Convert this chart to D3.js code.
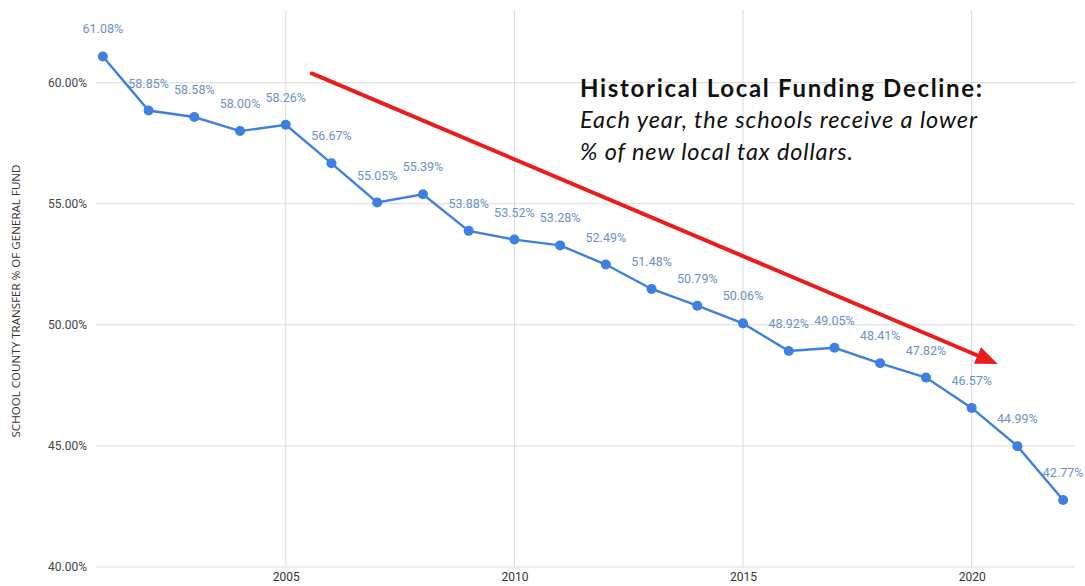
<!DOCTYPE html>
<html>
<head>
<meta charset="utf-8">
<script src="https://cdn.jsdelivr.net/npm/d3@7"></script>
<style>
  html, body { margin: 0; padding: 0; background: #fff; }
  svg { display: block; }
</style>
</head>
<body>
<svg id="chart" width="1085" height="586"></svg>
<script>
// School county transfer as a share of the general fund, by fiscal year
const years = [2001, 2002, 2003, 2004, 2005, 2006, 2007, 2008, 2009, 2010, 2011,
               2012, 2013, 2014, 2015, 2016, 2017, 2018, 2019, 2020, 2021, 2022];
const shares = [61.08, 58.85, 58.58, 58.00, 58.26, 56.67, 55.05, 55.39, 53.88, 53.52, 53.28,
                52.49, 51.48, 50.79, 50.06, 48.92, 49.05, 48.41, 47.82, 46.57, 44.99, 42.77];
const yTicks = [40, 45, 50, 55, 60];
const xTicks = [2005, 2010, 2015, 2020];
const yTitle = "SCHOOL COUNTY TRANSFER % OF GENERAL FUND";
const noteTitle = "Historical Local Funding Decline:";
const noteLines = ["Each year, the schools receive a lower", "% of new local tax dollars."];
// Trend arrow endpoints in data units (year, percent)
const trendFrom = [2005.57, 60.38];
const trendTo = [2020.57, 48.38];

(function () {
  const svg = d3.select("#chart");
  const plotL = 96, plotR = 1075, plotT = 10, plotB = 567;

  const x = d3.scaleLinear().domain([2000.85, 2022.26]).range([plotL, plotR]);
  const y = d3.scaleLinear().domain([40, 63]).range([plotB, plotT]);

  // Grid
  svg.append("g").selectAll("line").data(yTicks).join("line")
    .attr("x1", plotL).attr("x2", plotR)
    .attr("y1", d => y(d)).attr("y2", d => y(d))
    .attr("stroke", "#dadada").attr("stroke-width", 1);
  svg.append("g").selectAll("line").data(xTicks).join("line")
    .attr("x1", d => x(d)).attr("x2", d => x(d))
    .attr("y1", plotT).attr("y2", plotB)
    .attr("stroke", "#dadada").attr("stroke-width", 1);

  // Y axis labels
  const yAxis = d3.axisLeft(y).tickValues(yTicks).tickSize(0).tickPadding(9)
    .tickFormat(d => d.toFixed(2) + "%");
  const gy = svg.append("g").attr("transform", `translate(${plotL},0)`).call(yAxis);
  gy.select(".domain").remove();
  gy.selectAll("text").attr("font-family", "Roboto, Arial, sans-serif")
    .attr("font-size", 12).attr("fill", "#444");

  // X axis labels
  const xAxis = d3.axisBottom(x).tickValues(xTicks).tickSize(0).tickPadding(5)
    .tickFormat(d3.format("d"));
  const gx = svg.append("g").attr("transform", `translate(0,${plotB})`).call(xAxis);
  gx.select(".domain").remove();
  gx.selectAll("text").attr("font-family", "Roboto, Arial, sans-serif")
    .attr("font-size", 12).attr("fill", "#333");

  // Y axis title
  svg.append("text")
    .attr("transform", `translate(20,301) rotate(-90)`)
    .attr("text-anchor", "middle")
    .attr("font-family", "'Open Sans', Arial, sans-serif")
    .attr("font-size", 11.6).attr("fill", "#333")
    .text(yTitle);

  // Line and points
  const data = years.map((yr, i) => ({ yr, v: shares[i] }));
  svg.append("path").datum(data)
    .attr("fill", "none").attr("stroke", "#3f7fe0").attr("stroke-width", 2.4)
    .attr("d", d3.line().x(d => x(d.yr)).y(d => y(d.v)));
  svg.append("g").selectAll("circle").data(data).join("circle")
    .attr("cx", d => x(d.yr)).attr("cy", d => y(d.v)).attr("r", 5)
    .attr("fill", "#3f7fe0");

  // Value labels
  svg.append("g").selectAll("text").data(data).join("text")
    .attr("x", d => x(d.yr)).attr("y", d => y(d.v) - 23)
    .attr("text-anchor", "middle")
    .attr("font-family", "Roboto, Arial, sans-serif")
    .attr("font-size", 12.5).attr("fill", "#6d90c4")
    .text(d => d.v.toFixed(2) + "%");

  // Trend arrow
  const ax1 = x(trendFrom[0]), ay1 = y(trendFrom[1]);
  const ax2 = x(trendTo[0]), ay2 = y(trendTo[1]);
  const ang = Math.atan2(ay2 - ay1, ax2 - ax1);
  const headLen = 22, headHalf = 9;
  const bx = ax2 - headLen * Math.cos(ang), by = ay2 - headLen * Math.sin(ang);
  svg.append("line")
    .attr("x1", ax1).attr("y1", ay1).attr("x2", bx + 2 * Math.cos(ang)).attr("y2", by + 2 * Math.sin(ang))
    .attr("stroke", "#ea1c1c").attr("stroke-width", 4).attr("stroke-linecap", "round");
  svg.append("path")
    .attr("d", `M${ax2},${ay2}L${bx + headHalf * Math.sin(ang)},${by - headHalf * Math.cos(ang)}L${bx - headHalf * Math.sin(ang)},${by + headHalf * Math.cos(ang)}Z`)
    .attr("fill", "#ea1c1c");

  // Annotation
  const note = svg.append("g").attr("font-family", "Lato, 'Open Sans', sans-serif").attr("fill", "#111");
  note.append("text").attr("x", 580).attr("y", 97)
    .attr("font-size", 24).attr("font-weight", "bold")
    .attr("textLength", 402).text(noteTitle);
  const lineWidths = [397, 273];
  noteLines.forEach((t, i) => {
    note.append("text").attr("x", 580).attr("y", 128 + i * 32)
      .attr("font-size", 23.5).attr("font-style", "italic")
      .attr("textLength", lineWidths[i]).text(t);
  });
})();
</script>
</body>
</html>
